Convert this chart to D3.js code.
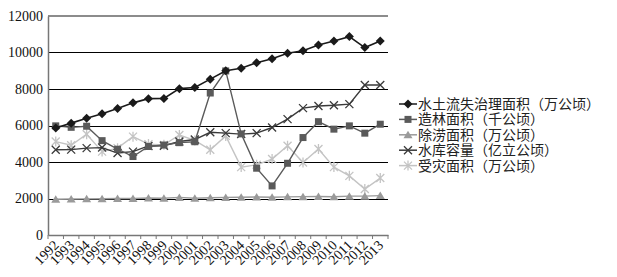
<!DOCTYPE html>
<html>
<head>
<meta charset="utf-8">
<script src="https://cdn.jsdelivr.net/npm/d3@7"></script>
<style>
  body { margin: 0; background: #fff; }
  svg { display: block; }
  .serif text { font-family: "Times New Roman", "Liberation Serif", Times, serif !important; }
</style>
</head>
<body>
<svg id="chart" width="617" height="277"></svg>
<script>
// data
var years = ['1992','1993','1994','1995','1996','1997','1998','1999','2000','2001','2002',
             '2003','2004','2005','2006','2007','2008','2009','2010','2011','2012','2013'];
var soilErosion = [5860,6130,6400,6640,6930,7240,7470,7480,8020,8080,8540,
                   9000,9140,9440,9660,9960,10100,10410,10630,10870,10270,10630];
var afforest = [5980,5900,5960,5170,4700,4300,4850,4930,5060,5110,7780,
                8990,5540,3660,2690,3930,5340,6210,5800,5980,5580,6070];
var drainage = [1960,1970,1980,1990,2000,2000,2030,2010,2060,2010,2040,
                2060,2070,2080,2070,2090,2100,2110,2100,2130,2130,2160];
var reservoir = [4670,4680,4760,4790,4490,4570,4880,4890,5120,5230,5630,
                 5580,5530,5580,5890,6350,6950,7070,7110,7170,8220,8220];
var disaster = [5120,4920,5520,4570,4760,5390,4980,4940,5480,5180,4670,
                5430,3720,3850,4160,4890,3970,4710,3720,3240,2520,3120];
var yTicks = [0,2000,4000,6000,8000,10000,12000];

var series = [
  {name:'水土流失治理面积（万公顷）', values: soilErosion, color:'#1a1a1a', marker:'diamond'},
  {name:'造林面积（千公顷）', values: afforest, color:'#5a5a5a', marker:'square'},
  {name:'除涝面积（万公顷）', values: drainage, color:'#9a9a9a', marker:'triangle'},
  {name:'水库容量（亿立公顷）', values: reservoir, color:'#3a3a3a', marker:'cross'},
  {name:'受灾面积（万公顷）', values: disaster, color:'#c4c4c4', marker:'star'}
];

var plotL = 48, plotR = 388, plotT = 16, plotB = 235;

var svg = d3.select('#chart');

var x = d3.scaleBand().domain(years).range([plotL, plotR]);
var y = d3.scaleLinear().domain([0, 12000]).range([plotB, plotT]);

// gridlines
svg.append('g').selectAll('line')
  .data(yTicks.filter(function(d){ return d > 0 && d < 12000; }))
  .join('line')
  .attr('x1', plotL).attr('x2', plotR)
  .attr('y1', function(d){ return Math.round(y(d)) + 0.5; })
  .attr('y2', function(d){ return Math.round(y(d)) + 0.5; })
  .attr('stroke', '#000').attr('stroke-width', 1);

svg.append('line')
  .attr('x1', plotL).attr('x2', plotR)
  .attr('y1', y(12000)).attr('y2', y(12000))
  .attr('stroke', '#8c8c8c').attr('stroke-width', 2);

// y axis
var yAxis = svg.append('g')
  .attr('class', 'serif')
  .attr('transform', 'translate(' + plotL + ',0)')
  .call(d3.axisLeft(y).tickValues(yTicks).tickSize(0).tickPadding(5).tickFormat(d3.format('d')));
yAxis.select('.domain').attr('stroke', '#777').attr('stroke-width', 1.5);
yAxis.selectAll('text')
  .attr('font-size', 14).attr('fill', '#111');

// x axis
var xAxis = svg.append('g')
  .attr('class', 'serif')
  .attr('transform', 'translate(0,' + plotB + ')')
  .call(d3.axisBottom(x).tickSize(0).tickPadding(0));
xAxis.select('.domain').attr('stroke', '#777').attr('stroke-width', 1.5);
xAxis.selectAll('.tick text')
  .attr('font-size', 14).attr('fill', '#111')
  .attr('text-anchor', 'end')
  .attr('dy', 0)
  .attr('transform', 'translate(4,11) rotate(-45)');
// tick marks at band edges
svg.append('g').selectAll('line')
  .data(years.concat(['end']))
  .join('line')
  .attr('x1', function(d, i){ return plotL + i * x.bandwidth(); })
  .attr('x2', function(d, i){ return plotL + i * x.bandwidth(); })
  .attr('y1', plotB).attr('y2', plotB + 4)
  .attr('stroke', '#777').attr('stroke-width', 1);

function cx(i){ return x(years[i]) + x.bandwidth() / 2; }

function drawMarker(g, type, color, px, py){
  if (type === 'diamond') {
    g.append('path').attr('d', 'M0,-4.5L4.5,0L0,4.5L-4.5,0Z')
      .attr('transform', 'translate(' + px + ',' + py + ')').attr('fill', color);
  } else if (type === 'square') {
    g.append('rect').attr('x', px - 3.5).attr('y', py - 3.5)
      .attr('width', 7).attr('height', 7).attr('fill', color);
  } else if (type === 'triangle') {
    g.append('path').attr('d', 'M0,-4L4.5,3.5L-4.5,3.5Z')
      .attr('transform', 'translate(' + px + ',' + py + ')').attr('fill', color);
  } else if (type === 'cross') {
    g.append('path').attr('d', 'M-4,-4L4,4M-4,4L4,-4')
      .attr('transform', 'translate(' + px + ',' + py + ')')
      .attr('stroke', color).attr('stroke-width', 1.3).attr('fill', 'none');
  } else if (type === 'star') {
    g.append('path').attr('d', 'M-4,-4L4,4M-4,4L4,-4M0,-5L0,5')
      .attr('transform', 'translate(' + px + ',' + py + ')')
      .attr('stroke', color).attr('stroke-width', 1.3).attr('fill', 'none');
  }
}

var line = d3.line()
  .x(function(d, i){ return cx(i); })
  .y(function(d){ return y(d); });

// draw from back to front
[4, 2, 3, 1, 0].forEach(function(k){
  var s = series[k];
  var g = svg.append('g');
  g.append('path').datum(s.values)
    .attr('d', line)
    .attr('fill', 'none')
    .attr('stroke', s.color)
    .attr('stroke-width', k === 0 ? 1.6 : 1.4);
  s.values.forEach(function(v, i){ drawMarker(g, s.marker, s.color, cx(i), y(v)); });
});

// legend
var leg = svg.append('g');
series.forEach(function(s, i){
  var ly = 104 + i * 15.4;
  leg.append('line').attr('x1', 399).attr('x2', 417)
    .attr('y1', ly).attr('y2', ly)
    .attr('stroke', s.color).attr('stroke-width', 1.5);
  drawMarker(leg, s.marker, s.color, 408, ly);
  leg.append('text').attr('x', 418).attr('y', ly + 5)
    .attr('font-family', '"Noto Sans CJK SC", sans-serif')
    .attr('font-size', 14).attr('fill', '#222')
    .text(s.name);
});
</script>
</body>
</html>
